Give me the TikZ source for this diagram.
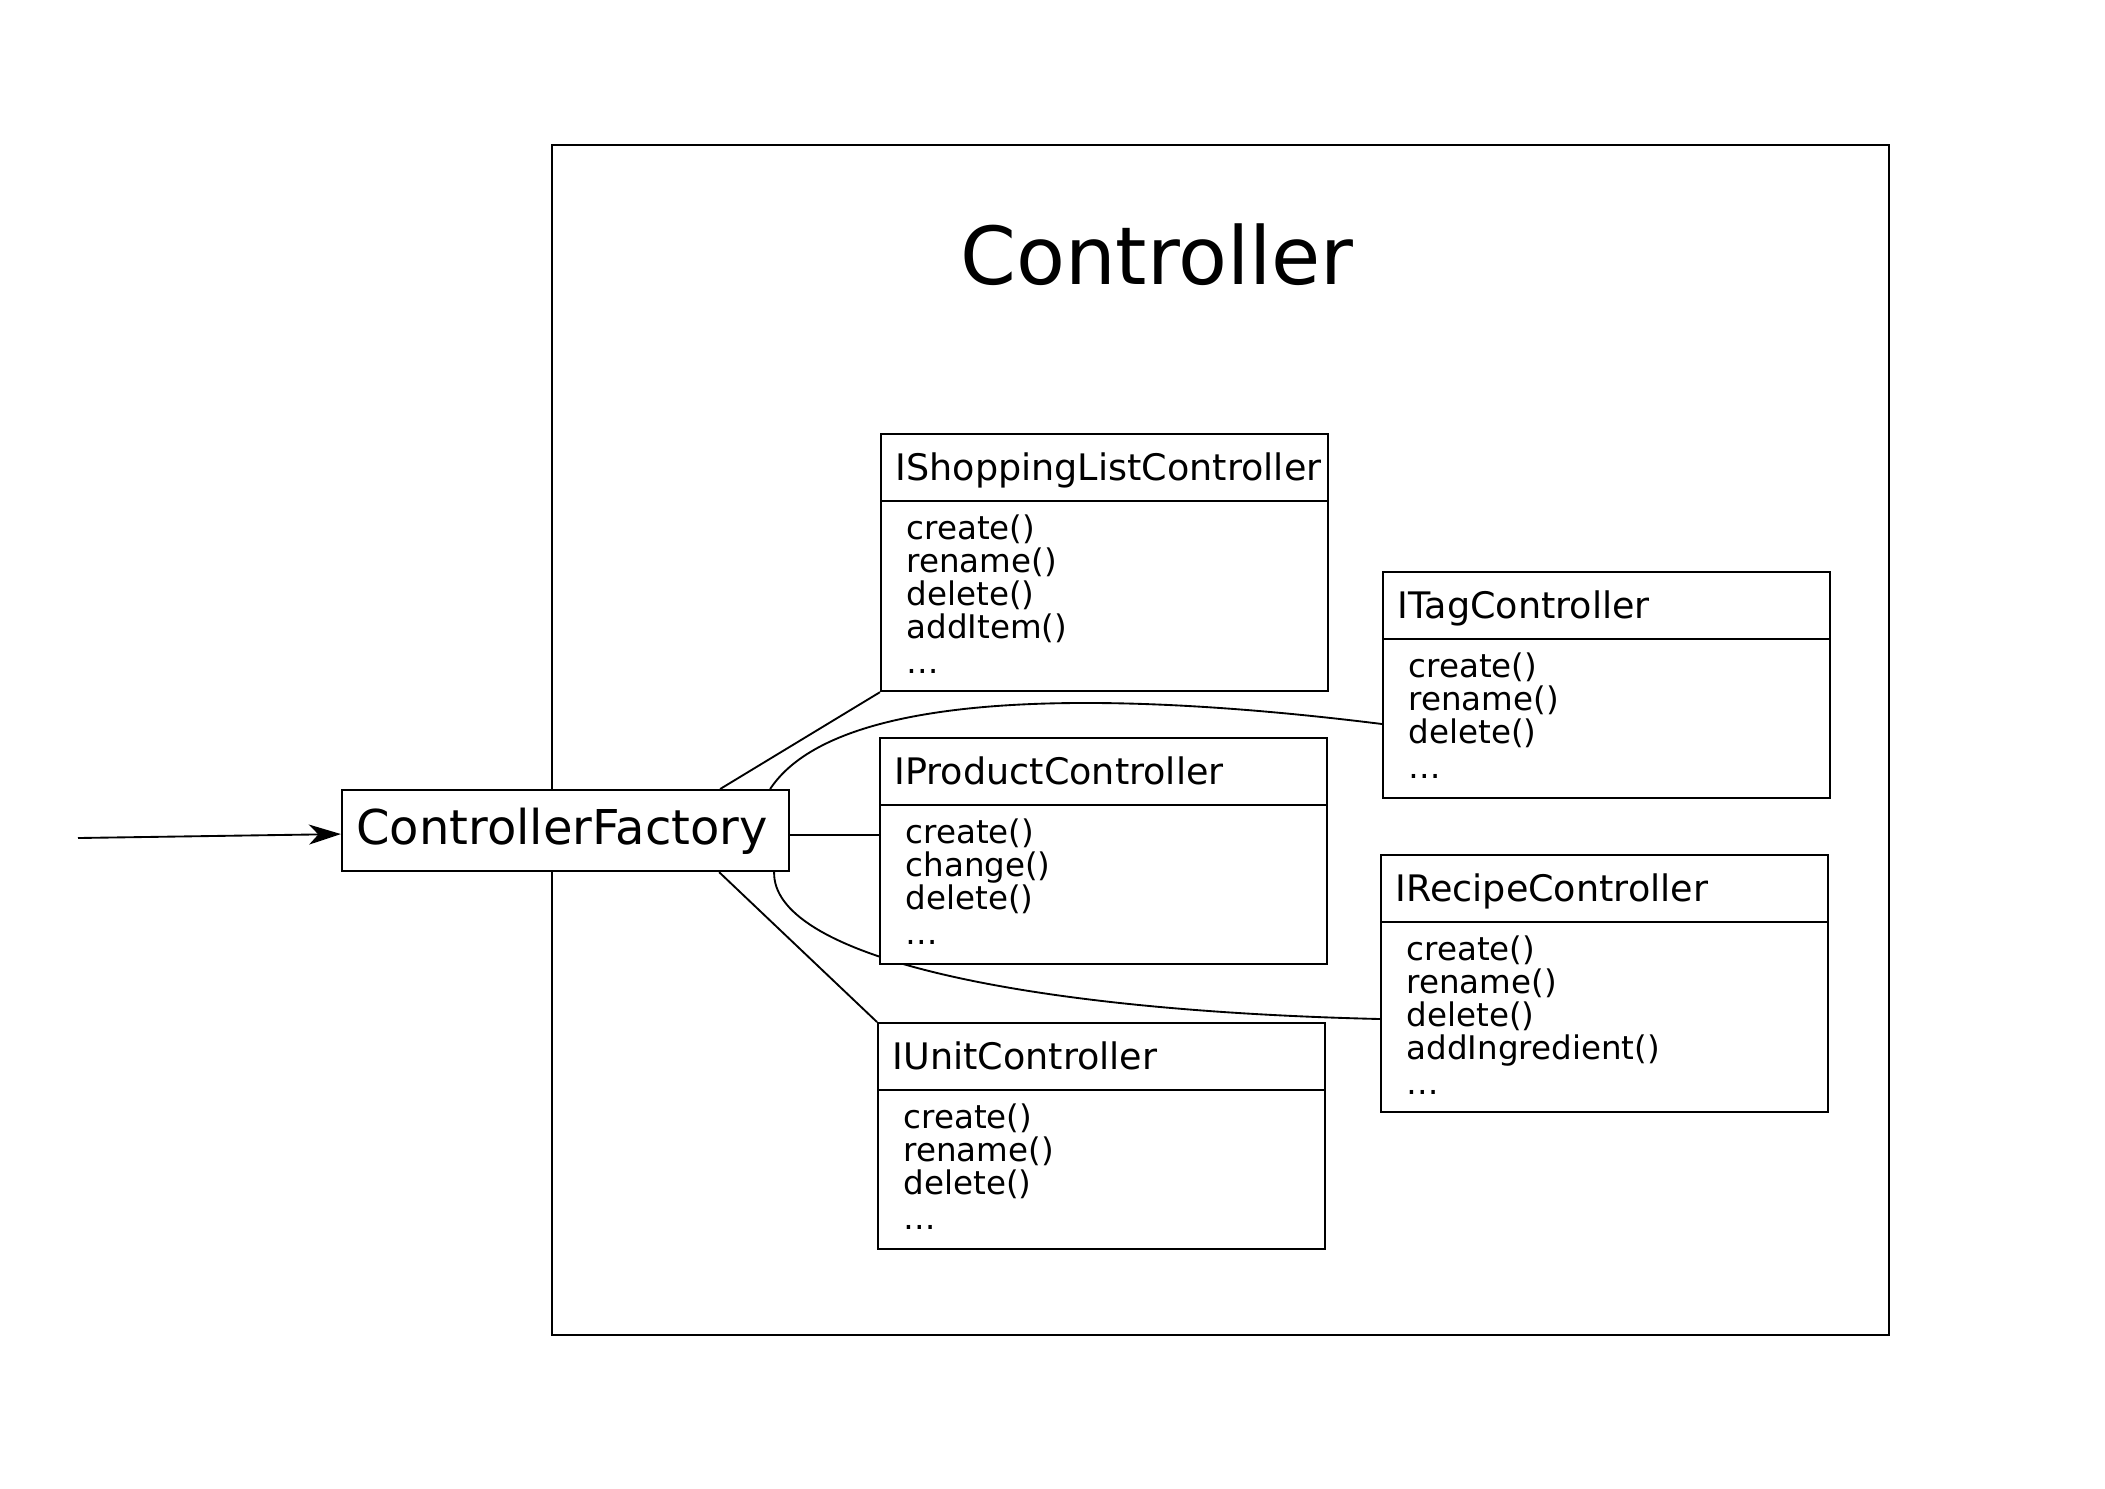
\documentclass[tikz,border=0pt]{standalone}
\usepackage{fontspec}
\setmainfont{DejaVu Sans}
\usetikzlibrary{arrows.meta,calc}
\pgfdeclarelayer{bg}
\pgfsetlayers{bg,main}

\newcommand\clsbox[5]{% name, x, y, n methods, title
  \node[box, minimum height={(68+96+31*(#4-1))*0.375pt}, anchor=north west] (#1) at (#2,#3) {};
  \draw[boxline] ($(#1.north west)+(0,68)$) -- ($(#1.north east)+(0,68)$);
  \node[hdr] (#1-t) at ($(#1.north west)+(15,47.5)$) {#5};
}
\newcommand\clsmeth[3]{% name, n, list
  \foreach \m [count=\i from 0] in {#3} {
    \node[meth] (#1-m\i) at ($(#1.north west)+(26,{106.5+33*\i})$) {\m};
  }
  \node[meth] (#1-dots) at ($(#1.north west)+(26,{106.5+33*(#2-1)+35})$) {…};
}

\begin{document}
\begin{tikzpicture}[x=0.375pt,y=-0.375pt,
  box/.style={draw=black, fill=white, line width=0.8pt, inner sep=0pt,
    minimum width={447*0.375pt}},
  boxline/.style={line width=0.8pt},
  hdr/.style={anchor=base west, inner sep=0pt, font=\fontsize{13.7}{15}\selectfont},
  meth/.style={anchor=base west, inner sep=0pt, font=\fontsize{12.2}{14}\selectfont},
  conn/.style={line width=0.7pt},
  outerbox/.style={draw=black, line width=0.75pt, inner sep=0pt},
]
\useasboundingbox (0,0) rectangle (2105,1488);

% outer box
\begin{pgfonlayer}{bg}
\node[outerbox, minimum width={(1888-551)*0.375pt}, minimum height={(1334-144)*0.375pt},
  anchor=north west] (ctrl) at (551,144) {};
\end{pgfonlayer}
\node[anchor=base, inner sep=0pt, font=\fontsize{30}{36}\selectfont] (ctrl-t) at (1157,284) {Controller};

% class boxes
\clsbox{isl}{880}{433}{4}{IShoppingListController}
\clsmeth{isl}{4}{create(),rename(),delete(),addItem()}
\clsbox{tag}{1382}{571}{3}{ITagController}
\clsmeth{tag}{3}{create(),rename(),delete()}
\clsbox{prod}{879}{737}{3}{IProductController}
\clsmeth{prod}{3}{create(),change(),delete()}
\clsbox{rec}{1380}{854}{4}{IRecipeController}
\clsmeth{rec}{4}{create(),rename(),delete(),addIngredient()}
\clsbox{unit}{877}{1022}{3}{IUnitController}
\clsmeth{unit}{3}{create(),rename(),delete()}

% factory
\node[box, minimum height={81*0.375pt}, anchor=north west] (cf) at (341,789) {};
\node[anchor=base, inner sep=0pt, font=\fontsize{18}{22}\selectfont] (cf-t)
  at ($(cf.north west)+(221,55)$) {ControllerFactory};

% connectors
\coordinate (cfe) at ($(cf.east)+(0,4.5)$);
\coordinate (src) at (78,838);
\begin{pgfonlayer}{bg}
\draw[conn] ($(cf.north east)+(-70,0)$) -- (isl.south west);
\draw[conn] (cfe) -- (cfe -| prod.west);
\draw[conn] ($(cf.south east)+(-71,0)$) -- (unit.north west);
\draw[conn] ($(cf.north east)+(-20,0)$) .. controls +(72,-109) and +(-232,-29) .. ($(tag.north west)+(0,153)$);
\draw[conn] ($(cf.south east)+(-16,0)$) .. controls +(-2,80) and +(-380,-9) .. ($(rec.north west)+(0,165)$);
\end{pgfonlayer}
\draw[conn, -{Stealth[length=12pt, width=7.5pt, inset=3.5pt]}] (src) -- ($(cf.west)+(0,3.5)$);
\end{tikzpicture}
\end{document}
